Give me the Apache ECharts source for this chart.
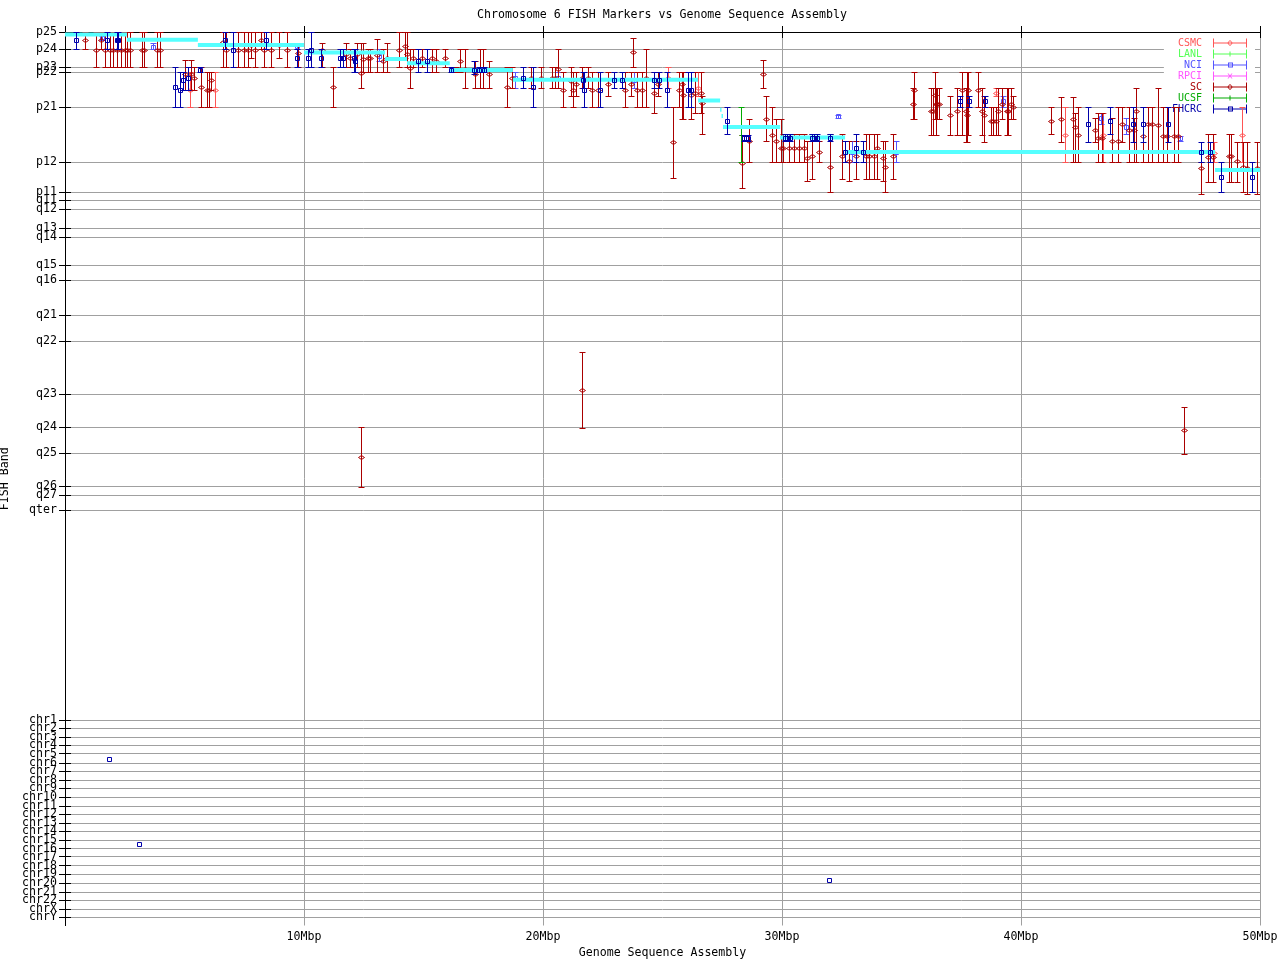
<!DOCTYPE html>
<html><head><meta charset="utf-8">
<script src="https://cdn.jsdelivr.net/npm/echarts@6/dist/echarts.min.js"></script>
<style>html,body{margin:0;padding:0;background:#fff}#c{width:1280px;height:960px}</style>
</head><body><div id="c"></div>
<script>
// Band tick labels and their positions along the FISH band axis (arbitrary cytogenetic units, 0 = p25)
const bandNames = ['p25','p24','p23','p22','p21','p12','p11','q11','q12','q13','q14','q15','q16','q21','q22','q23','q24','q25','q26','q27','qter',
  'chr1','chr2','chr3','chr4','chr5','chr6','chr7','chr8','chr9','chr10','chr11','chr12','chr13','chr14','chr15','chr16','chr17','chr18','chr19','chr20','chr21','chr22','chrX','chrY'];
const bandPos = [0,17.3,35.3,40,75.3,130.3,160.3,168.3,177,196.3,205,233,248.3,283.3,309.3,362,395.3,421.3,454.3,463.3,478,
  688.3,696.3,705,713,721.7,731,739.3,748.3,756.3,765.3,774,782,791,799.3,808,816.7,824.7,833.7,842,851,860,868.3,877,885];
const bandAxisMax = 893.5;
const xTicksMbp = [10,20,30,40,50];

// Sequence assembly track: [start Mbp, end Mbp, band position]
const assembly = [
 [0,2.59,2.5],[2.59,5.56,7.7],[5.56,10.0,13],[10.0,13.39,20.5],[13.39,14.31,27],[14.31,16.1,31.3],
 [16.1,18.74,38],[18.74,26.49,47.7],[26.49,27.41,68.5],[27.41,27.47,77.7],[27.47,27.53,84],
 [27.53,29.92,95],[29.92,32.64,105.5],[32.64,48.12,120],[48.12,50,138]
];

// FISH markers: [Mbp, band position, band low, band high]
const csmc = [
 [5.23,58.3,40,75.3],[6.29,58.3,40,75.3],[25.24,46.3,35.3,56.3],[26.5,56.3,40,64.3],[38.94,60.7,56.3,64],
 [41.84,103,75.3,130.3],[43.44,103,81.3,130.3],[48.07,121.3,109.7,130.3],[49.26,103,75.3,130.3]
];
const lanl = [];
const nci = [
 [1.53,6,3.5,8.3],[3.68,15,11,17.3],[9.72,14,10.7,17.3],[13.14,24,17.3,28.7],[18.84,46.3,40,56.3],
 [20.64,46.3,40,56.3],[23.82,48.3,40,56.3],[32.36,84,82.5,85.5],[32.92,120.3,109,130.3],[34.76,120.3,109,130.3],
 [39.26,69,64,75.3],[43.33,86.3,81.3,92],[44.38,94.7,86.3,102.3],[46.67,106.3,104,109]
];
const rpci = [];
const sc = [
 [0.85,8.3,0,17.3],[1.31,18.3,0,35.3],[1.49,8.3,0,17.3],[1.67,18.3,0,35.3],[1.87,18.3,0,35.3],[2.02,18.3,0,35.3],
 [2.19,18.3,0,35.3],[2.36,18.3,0,35.3],[2.51,18.3,0,35.3],[2.61,18.3,0,35.3],[2.71,18.3,0,35.3],[3.24,18.3,0,35.3],
 [3.32,18.3,0,35.3],[3.86,18.3,0,35.3],[3.96,18.3,0,35.3],[5.02,42,28.3,58.3],[5.26,42,28.3,58.3],[5.41,46.3,35.3,58.3],
 [5.7,55.3,35.3,75.3],[5.93,58.3,40,75.3],[6.03,58.3,40,75.3],[6.12,48.3,40,58.3],[6.61,10.3,0,35.3],[6.75,18.3,0,35.3],
 [7.25,18.3,0,35.3],[7.49,18.3,0,35.3],[7.67,18.3,0,35.3],[7.8,13,0,26.3],[7.96,18.3,0,35.3],[8.19,8.3,0,17.3],
 [8.34,18.3,0,35.3],[8.63,18.3,0,35.3],[8.97,13,0,26.3],[9.3,18.3,0,35.3],[9.76,21,10.7,35.3],[10.74,18.3,10.7,35.3],
 [11.23,55.3,35.3,75.3],[11.74,22,10.7,35.3],[11.92,26.3,17.3,35.3],[12.23,22,10.7,35.3],[12.4,41.3,10.7,56.3],
 [12.48,27.3,10.7,40],[12.66,26.3,17.3,40],[12.76,26.3,17.3,40],[13.04,23.3,6.7,40],[13.32,28.7,17.3,40],
 [13.49,26.3,10.7,40],[13.99,18.3,0,35.3],[14.23,14,0,26.3],[14.3,22,0,35.3],[14.44,36,17.3,56.3],[14.57,26.3,17.3,35.3],
 [14.94,26.3,17.3,35.3],[15.34,26.3,17.3,40],[15.54,28.7,17.3,40],[15.91,26.3,17.3,35.3],[16.36,38,35.3,40],
 [16.51,28.7,17.3,40],[16.74,36.7,17.3,56.3],[17.15,42.3,28.7,56.3],[17.36,38,17.3,56.3],[17.49,38,17.3,56.3],
 [17.75,42.3,28.7,56.3],[18.51,55.3,35.3,75.3],[18.72,46.3,35.3,56.3],[19.51,46.3,35.3,56.3],[19.9,46.3,35.3,56.3],
 [20.36,46.3,35.3,56.3],[20.5,46.3,35.3,56.3],[20.64,36.7,17.3,56.3],[20.85,58.3,40,75.3],[21.16,49.3,35.3,64.3],
 [21.24,58.3,40,75.3],[21.37,52.3,40,64.3],[21.62,46.3,35.3,56.3],[21.9,46.3,35.3,56.3],[22.04,58.3,40,75.3],
 [22.31,58.3,40,75.3],[22.71,52.3,40,64.3],[23.42,58.3,40,75.3],[23.67,52.3,40,64.3],[23.75,20.3,6.3,35.3],
 [23.95,58.3,40,75.3],[24.13,58.3,40,75.3],[24.32,46.3,17.3,75.3],[24.66,61.3,40,81.3],[24.82,52.3,40,64.3],
 [25.45,110.3,75.3,146.3],[25.7,58.3,40,75.3],[25.83,52.3,40,87.3],[25.86,63.3,40,87.3],[26.2,63.3,40,87.3],
 [26.36,61.3,40,81.3],[26.62,61.3,40,81.3],[26.64,71.3,64.3,102.3],[28.33,131.3,102.7,156],[28.63,109.3,87.3,130.3],
 [29.22,42.3,28.3,56.3],[29.34,87.3,64.3,109.3],[29.59,103.3,75.3,130.3],[29.76,109.3,87.3,130.3],[29.94,116.3,87.3,130.3],
 [30.05,116.3,102.3,130.3],[30.29,116.3,102.3,130.3],[30.5,116.3,102.3,130.3],[30.72,116.3,102.3,130.3],[30.93,116.3,102.3,130.3],
 [31.06,126.3,109,149.3],[31.27,124,102.3,146.7],[31.56,120.3,109,130.3],[32.02,135.3,102.3,160.3],[32.52,124,102.3,146.7],
 [32.82,129.3,109,149.3],[33.11,124,109,146.7],[33.51,124,102.3,146.7],[33.63,124,102.3,146.7],[33.86,124,102.3,146.7],
 [33.99,116.3,102.3,146.7],[34.21,126.3,109,149.3],[34.32,135.3,109,160.3],[34.66,124,102.3,146.7],
 [35.47,72.3,56.3,87.3],[35.54,58.3,40,87.3],[36.23,79,56.3,102.7],[36.3,79,56.3,102.7],[36.41,63,40,87.3],
 [36.44,72.3,56.3,102.7],[36.5,72.3,56.3,87.3],[36.56,72.3,56.3,87.3],[37.04,83,64,102.7],[37.33,79,56.3,102.7],
 [37.54,58.3,40,102.7],[37.68,79,56.3,109.7],[37.75,83,40,109.7],[37.79,58.3,40,102.7],[38.21,58.3,40,75.3],
 [38.38,79,56.3,102.7],[38.44,83,64,109.7],[38.73,89,75.3,102.7],[38.84,89,75.3,102.7],[38.94,89,75.3,102.7],
 [39.05,79,56.3,102.7],[39.19,72.3,56.3,87.3],[39.4,79,56.3,102.7],[39.47,79,56.3,102.7],[39.6,72.3,56.3,87.3],
 [39.68,75.3,64,87.3],[41.24,89,75.3,102.3],[41.66,87.3,64.7,109.7],[42.19,87,64.7,130.3],[42.26,95.3,81.3,130.3],
 [42.37,103,75.3,130.3],[43.08,98,86.3,109.7],[43.23,105.7,81.3,130.3],[43.37,105.7,81.3,130.3],[43.82,109,86.3,130.3],
 [44.07,109,75.3,130.3],[44.21,92,75.3,109.7],[44.52,98,75.3,130.3],[44.73,98,86.3,130.3],[44.8,78.7,56.3,130.3],
 [45.12,103.7,75.3,130.3],[45.32,92.3,75.3,130.3],[45.47,92.3,75.3,130.3],[45.74,93,56.3,130.3],[45.95,103.7,75.3,130.3],
 [46.09,103.7,75.3,130.3],[46.4,103.7,75.3,130.3],[46.58,103.7,75.3,130.3],[47.54,136.3,130.3,162],[47.84,124.7,102.3,149.7],
 [48.02,124.7,102.3,149.7],[48.7,124,102.3,149.7],[48.79,124,102.3,149.7],[49.05,129,109.7,149.7],[49.3,134.7,109.7,160.3],
 [49.44,135.7,109.7,162],[49.89,136.3,109.7,162],
 [12.38,425,395.3,455],[21.63,358,320,396],[46.82,398,375,422]
];
const ucsf = [[28.3,102.7,75.3,130.3]];
const fhcrc = [
 [0.47,8.3,0,17.3],[1.77,8.3,0,17.3],[2.16,8.3,0,17.3],[2.2,8.3,0,17.3],[4.62,55.3,35.3,75.3],[4.83,58.3,40,75.3],
 [4.94,48.3,40,58.3],[5.16,46.3,35.3,58.3],[5.66,38,35.3,40],[6.71,8.3,0,17.3],[7.02,18.3,0,35.3],[8.42,8.3,0,17.3],
 [9.72,26.3,17.3,35.3],[10.18,26.3,17.3,35.3],[10.29,18.3,0,35.3],[10.7,26.3,17.3,35.3],[11.51,26.3,17.3,35.3],
 [11.64,26.3,17.3,35.3],[12.09,26.3,17.3,40],[12.13,28.7,17.3,40],[14.78,28.7,17.3,40],[15.16,28.7,17.3,40],
 [16.15,38,35.3,40],[17.11,38,28.7,42.3],[17.32,38,35.3,40],[17.52,38,35.3,40],[19.18,46.3,35.3,56.3],[19.6,55.3,35.3,75.3],
 [21.69,48.3,40,56.3],[21.73,58.3,40,75.3],[22.4,58.3,40,75.3],[22.98,48.3,40,56.3],[23.32,48.3,40,56.3],
 [24.66,48.3,40,56.3],[24.85,48.3,40,56.3],[25.2,58.3,40,75.3],[26.05,58.3,40,75.3],[26.18,58.3,40,75.3],
 [27.71,89.3,75.3,102.3],[28.41,106,102.7,109.3],[28.49,106,102.7,109.3],[28.58,106,102.7,109.3],
 [30.13,106.3,102.3,109],[30.22,106.3,102.3,109],[30.33,106.3,102.3,109],[31.24,106.3,102.3,109],[31.35,106.3,102.3,109],
 [31.46,106.3,102.3,109],[32.02,106.3,102.3,109],[32.65,120.3,109,130.3],[33.11,116.3,102.3,130.3],[33.4,120.3,109,130.3],
 [37.46,69,64,75.3],[37.84,69,64,75.3],[38.49,69,64,75.3],[42.82,92,75.3,109.7],[43.72,89,75.3,102.3],
 [44.7,92,75.3,109.7],[45.09,92,75.3,109.7],[46.16,92,75.3,109.7],[47.54,120.3,109.7,130.3],[47.92,120.3,109.7,130.3],
 [48.37,145.3,130.3,160.3],[49.68,145.3,130.3,160.3],
 [1.84,727.3,727.3,727.3],[3.11,812.3,812.3,812.3],[31.97,848,848,848]
];

const MONO = 'DejaVu Sans Mono';
const bar = 'M0,4h34v1h-34z M0,0h1v9h-1z M33,0h1v9h-1z';
const icons = {
  diamond: 'path://' + bar + ' M17,1.5L20,4.5L17,7.5L14,4.5z M17,2.5L15,4.5L17,6.5L19,4.5z',
  plus: 'path://' + bar + ' M16.5,2h1v5h-1z',
  square: 'path://' + bar + ' M15,2h5v5h-5z M16,3v3h3v-3z',
  cross: 'path://' + bar + ' M14.5,2L15.5,2L19.5,7L18.5,7z M18.5,2L19.5,2L15.5,7L14.5,7z'
};
const groups = [
  {name:'CSMC', data:csmc, color:'#ff5555', shape:'diamond'},
  {name:'LANL', data:lanl, color:'#55ff55', shape:'plus'},
  {name:'NCI', data:nci, color:'#5555ff', shape:'square'},
  {name:'RPCI', data:rpci, color:'#ff55ff', shape:'cross'},
  {name:'SC', data:sc, color:'#aa0000', shape:'diamond'},
  {name:'UCSF', data:ucsf, color:'#00aa00', shape:'plus'},
  {name:'FHCRC', data:fhcrc, color:'#0000aa', shape:'square'}
];

function errRender(shape) {
  return function (params, api) {
    const x = api.value(0), y = api.value(1), lo = api.value(2), hi = api.value(3);
    const c = api.coord([x, y]), a = api.coord([x, lo]), b = api.coord([x, hi]);
    const color = api.visual('color');
    const px = Math.round(c[0]) + 0.5, py = Math.round(c[1]) + 0.5;
    const ya = Math.round(a[1]) + 0.5, yb = Math.round(b[1]) + 0.5;
    const st = {stroke: color, lineWidth: 1, fill: 'none'};
    const ch = [];
    if (Math.abs(ya - yb) >= 1) {
      ch.push({type:'line', shape:{x1:px, y1:ya, x2:px, y2:yb}, style:st});
      ch.push({type:'line', shape:{x1:px-3, y1:ya, x2:px+3, y2:ya}, style:st});
      ch.push({type:'line', shape:{x1:px-3, y1:yb, x2:px+3, y2:yb}, style:st});
    }
    if (shape === 'diamond') {
      ch.push({type:'polygon', shape:{points:[[px,py-2],[px+3,py],[px,py+2],[px-3,py]]}, style:st});
    } else if (shape === 'square') {
      ch.push({type:'rect', shape:{x:px-2, y:py-2, width:4, height:4}, style:st});
    } else if (shape === 'plus') {
      ch.push({type:'line', shape:{x1:px-2, y1:py, x2:px+2, y2:py}, style:st});
    } else if (shape === 'cross') {
      ch.push({type:'line', shape:{x1:px-2, y1:py-2, x2:px+2, y2:py+2}, style:st});
      ch.push({type:'line', shape:{x1:px-2, y1:py+2, x2:px+2, y2:py-2}, style:st});
    }
    return {type:'group', children:ch};
  };
}
function segRender(params, api) {
  const a = api.coord([api.value(0), api.value(2)]);
  const b = api.coord([api.value(1), api.value(2)]);
  return {type:'line', shape:{x1:a[0], y1:a[1], x2:b[0], y2:b[1]}, style:{stroke:'#55ffff', lineWidth:4, fill:'none'}};
}

const series = [];
groups.forEach(function (g) {
  series.push({
    name: g.name, type: 'custom', data: g.data, renderItem: errRender(g.shape),
    itemStyle: {color: g.color}, encode: {x: 0, y: 1}, clip: true,
    z: g.name === 'FHCRC' ? 7 : 5
  });
});
series.push({name:'assembly', type:'custom', data: assembly, renderItem: segRender,
  encode:{x:[0,1], y:2}, itemStyle:{color:'#55ffff'}, clip:true, z:6});

const labelOf = function (v) {
  const i = bandPos.findIndex(function (p) { return Math.abs(p - v) < 1e-6; });
  return i >= 0 ? bandNames[i] : '';
};
// label positions: all bands plus a blank one at the axis end (so no band label is treated as the end label)
const labelPos = bandPos.concat([bandAxisMax]);
const gray = '#a0a0a0';
const chart = echarts.init(document.getElementById('c'), null, {renderer:'canvas'});
chart.setOption({
  backgroundColor: '#ffffff',
  animation: false,
  title: {
    text: 'Chromosome 6 FISH Markers vs Genome Sequence Assembly',
    left: 662, top: 9, padding: 0, textAlign: 'center',
    textStyle: {fontFamily: MONO, fontSize: 11.6, fontWeight: 'normal', color: '#000'}
  },
  legend: {
    orient: 'vertical', right: 25, top: 35, align: 'right',
    itemWidth: 34, itemHeight: 9, itemGap: 1, padding: [3, 8, 3, 8],
    backgroundColor: '#ffffff', selectedMode: false,
    textStyle: {fontFamily: MONO, fontSize: 10, padding: [0, 6, 0, 0]},
    data: groups.map(function (g) {
      return {name: g.name, icon: icons[g.shape], itemStyle: {color: g.color}, textStyle: {color: g.color}};
    })
  },
  grid: {left: 65, right: 20, top: 32, bottom: 34.5, containLabel: false, outerBoundsMode: 'none'},
  xAxis: [{
    type: 'value', position: 'bottom', min: 0, max: 50, interval: 10,
    name: 'Genome Sequence Assembly', nameLocation: 'middle', nameGap: 21,
    nameTextStyle: {fontFamily: MONO, fontSize: 11.6, color: '#000'},
    axisLine: {show: true, lineStyle: {color: '#000', width: 1}},
    axisTick: {show: true, inside: true, length: 6, lineStyle: {color: '#000'}},
    axisLabel: {fontFamily: MONO, fontSize: 11.6, color: '#000', margin: 5, hideOverlap: false,
      customValues: xTicksMbp, formatter: function (v) { return v + 'Mbp'; }},
    splitLine: {show: true, lineStyle: {color: gray, width: 1}}
  }, {
    type: 'value', position: 'top', min: 0, max: 50, interval: 10,
    axisLine: {show: true, lineStyle: {color: '#000', width: 1}},
    axisTick: {show: true, inside: true, length: 6, lineStyle: {color: '#000'}},
    axisLabel: {show: false}, splitLine: {show: false}
  }],
  yAxis: [{
    type: 'value', position: 'left', inverse: true, min: 0, max: bandAxisMax,
    name: 'FISH Band', nameLocation: 'middle', nameGap: 42, nameRotate: 90,
    nameTextStyle: {fontFamily: MONO, fontSize: 11.6, color: '#000'},
    axisLine: {show: true, lineStyle: {color: '#000', width: 1}},
    axisTick: {show: true, inside: true, length: 6, customValues: bandPos, lineStyle: {color: '#000'}},
    axisLabel: {show: true, customValues: labelPos, formatter: labelOf, fontFamily: MONO, fontSize: 11.6,
      color: '#000', margin: 8, hideOverlap: false, showMinLabel: true, showMaxLabel: false},
    splitLine: {show: true, lineStyle: {color: gray, width: 1}}
  }, {
    type: 'value', position: 'right', inverse: true, min: 0, max: bandAxisMax,
    axisLine: {show: true, lineStyle: {color: '#000', width: 1}},
    axisTick: {show: true, inside: true, length: 6, customValues: bandPos, lineStyle: {color: '#000'}},
    axisLabel: {show: false, customValues: bandPos}, splitLine: {show: false}
  }],
  series: series
});
</script>
</body></html>
